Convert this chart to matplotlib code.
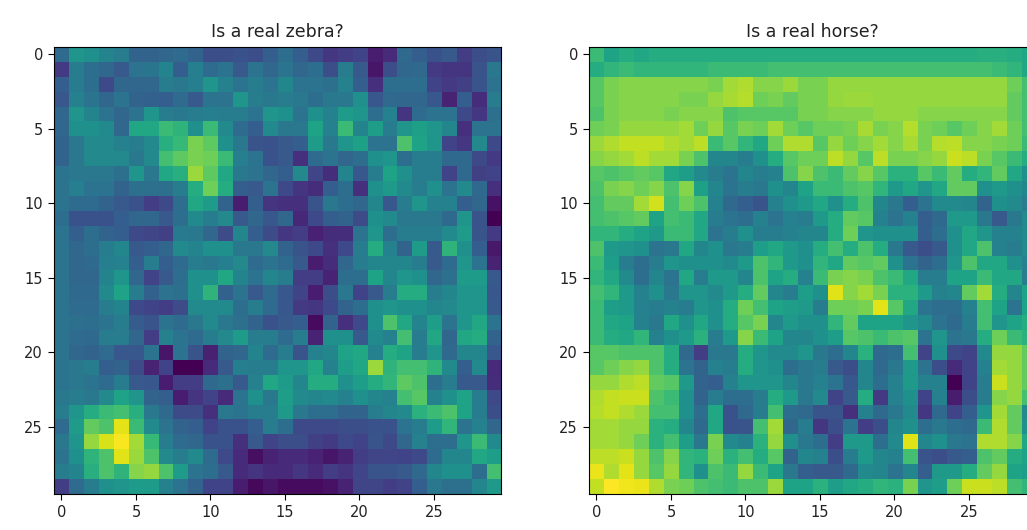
"""Two discriminator patch maps, zebra and horse."""
import matplotlib
matplotlib.use('Agg')
import matplotlib.pyplot as plt
import numpy as np

titles = ['Is a real zebra?', 'Is a real horse?']
ticks = [0, 5, 10, 15, 20, 25]

zebra = [
    [35,52,50,45,42,32,32,33,35,32,24,24,25,24,30, 36,30,22,16,18,20,8,12,34,30,25,28,18,24,26],
    [17,42,36,33,28,38,39,45,30,43,35,38,28,38,33, 38,33,36,24,42,28,6,24,33,34,17,15,15,26,40],
    [30,42,36,22,33,33,33,42,40,43,52,44,38,42,38, 46,38,38,37,44,30,14,36,36,36,20,17,19,26,38],
    [27,44,38,33,38,32,31,30,35,28,38,38,52,42,40, 42,40,36,40,40,50,27,34,33,33,27,10,30,13,42],
    [33,52,45,38,33,38,52,42,40,42,43,42,42,38,52, 50,38,50,44,55,52,36,44,15,35,38,38,22,16,37],
    [33,50,50,48,33,60,60,68,65,50,68,48,35,30,48, 40,40,58,44,68,45,56,42,52,57,52,46,14,38,38],
    [32,40,47,47,44,42,47,63,67,80,75,50,40,26,25, 28,30,55,40,52,57,38,38,72,58,52,20,16,47,22],
    [32,40,47,47,47,40,47,70,75,80,78,68,43,38,25, 28,14,35,38,33,36,50,52,36,42,42,34,34,22,17],
    [38,40,40,40,37,52,40,60,63,85,75,60,40,38,33, 30,47,21,13,45,27,42,58,50,42,42,20,34,19,20],
    [38,43,38,38,32,37,37,37,42,62,78,62,30,28,38, 22,15,13,30,36,14,50,54,48,42,50,38,48,34,14],
    [38,35,35,32,28,25,18,22,36,60,55,32,8,30,15, 14,14,26,40,36,33,46,27,42,52,44,44,30,33,5],
    [36,25,25,25,30,33,33,28,36,48,42,47,28,33,27, 33,11,22,30,32,23,50,48,40,40,40,34,52,26,0],
    [38,30,36,32,30,22,21,19,41,40,33,23,46,30,23, 16,18,9,13,13,38,52,36,42,42,42,48,55,26,17],
    [38,33,36,42,46,28,30,33,48,45,50,50,40,40,47, 32,26,22,14,22,42,62,44,32,55,28,65,50,30,7],
    [38,33,34,43,44,30,42,30,35,42,40,43,47,35,38, 35,28,8,13,33,42,46,46,46,42,28,35,52,38,10],
    [38,33,33,45,52,33,20,28,36,50,50,60,45,38,46, 42,18,18,10,36,36,58,46,52,50,33,37,55,55,28],
    [38,34,34,48,58,42,31,38,37,50,65,31,38,28,35, 27,20,8,24,40,20,28,42,62,62,42,46,52,52,27],
    [38,35,35,42,45,22,20,18,23,48,48,48,36,42,35, 27,17,16,22,32,36,50,52,50,50,46,47,52,52,28],
    [38,37,36,38,42,29,26,38,35,40,48,40,37,32,25, 28,30,3,32,14,22,50,72,60,45,56,38,52,60,38],
    [38,35,34,42,42,33,18,44,38,35,42,47,55,42,42, 35,42,10,50,50,28,48,44,70,42,60,33,60,62,32],
    [38,33,32,35,27,27,38,6,38,26,9,32,33,45,35, 42,26,44,46,58,60,44,62,58,42,52,34,46,46,27],
    [38,40,42,30,32,23,10,20,0,0,12,28,43,42,42, 52,52,60,44,56,60,85,65,70,70,65,48,30,48,12],
    [38,40,38,35,42,28,27,8,18,18,34,37,28,44,60, 55,46,62,62,50,56,62,66,75,72,36,42,28,28,13],
    [40,42,40,47,58,52,32,30,8,15,20,12,38,50,40, 56,48,46,48,44,50,46,44,70,74,44,50,58,42,22],
    [42,52,62,68,70,63,40,34,23,23,14,40,38,42,42, 54,40,36,36,32,32,42,46,48,64,68,72,58,42,24],
    [35,55,76,72,96,68,48,38,32,30,20,25,25,30,42, 36,22,22,22,24,24,25,25,38,42,55,66,38,44,33],
    [40,52,84,94,99,86,67,42,35,33,25,25,14,28,20, 24,24,19,17,22,20,26,22,33,44,36,36,52,68,48],
    [38,50,65,72,95,85,72,47,42,48,35,22,12,4,10, 12,12,10,6,10,18,21,21,20,22,35,46,46,60,56],
    [42,45,63,72,65,82,84,72,55,38,36,28,12,15,12, 12,16,12,18,15,21,26,26,28,34,46,50,50,36,70],
    [18,35,42,50,52,55,55,44,38,32,20,20,8,2,6, 3,3,3,5,10,21,21,18,20,30,40,37,37,46,54],
]

horse = [
    [68,58,62,60,62,62,62,62,62,62,62,62,62,62,62, 62,62,62,62,62,62,62,62,62,62,62,63,63,62,60],
    [62,66,68,66,66,66,66,66,68,68,68,68,70,70,70, 70,70,70,70,70,70,70,70,70,70,70,70,68,66,60],
    [74,80,82,82,82,82,82,82,80,86,88,82,82,85,80, 80,84,84,84,84,84,84,84,84,84,84,84,84,78,70],
    [74,80,82,82,82,82,80,80,84,87,89,78,80,76,80, 80,84,85,85,84,84,84,84,84,84,84,84,84,76,70],
    [72,80,82,82,82,80,82,82,82,72,74,74,74,74,80, 80,82,82,82,84,84,84,82,82,82,82,82,82,76,70],
    [78,80,84,84,84,84,86,78,84,74,80,78,86,78,74, 78,78,80,87,80,82,89,80,78,74,78,82,86,78,70],
    [85,88,91,91,91,88,86,90,68,74,66,60,78,88,88, 74,84,78,82,86,82,87,80,89,90,82,82,80,78,68],
    [82,84,86,90,86,86,80,72,46,46,42,50,62,74,78, 78,90,84,74,90,80,80,82,84,92,90,80,74,68,62],
    [74,72,74,76,74,60,56,48,42,38,46,42,44,72,82, 72,68,76,82,74,64,64,74,68,76,62,66,76,60,50],
    [72,80,82,78,82,72,82,57,46,38,42,40,50,46,58, 68,68,72,74,66,54,60,52,60,76,76,50,54,50,46],
    [70,76,76,86,93,70,78,72,44,34,30,26,44,50,54, 60,50,62,72,46,40,30,38,48,48,46,32,50,48,42],
    [70,72,74,76,58,70,68,60,42,38,36,44,38,44,42, 54,62,76,74,44,38,44,30,34,54,54,40,28,40,48],
    [66,66,62,58,54,68,68,60,38,42,50,42,42,44,46, 46,62,78,52,50,50,50,30,36,50,60,52,44,44,48],
    [72,54,52,50,38,40,60,46,50,40,42,56,60,54,50, 62,70,62,72,62,40,28,24,28,50,60,72,44,42,48],
    [68,56,42,36,42,52,50,50,50,48,54,72,66,54,50, 66,60,76,74,76,50,38,32,36,52,72,60,60,50,44],
    [66,60,48,36,46,38,60,42,54,54,46,72,58,62,44, 68,80,82,80,72,68,60,42,42,58,58,68,60,60,42],
    [70,66,54,44,50,40,52,52,48,54,62,76,46,42,56, 50,95,82,86,80,64,64,54,44,46,76,86,62,46,58],
    [68,56,54,44,42,44,42,52,50,62,78,70,58,56,54, 42,78,78,80,96,74,60,38,36,36,44,70,58,38,58],
    [68,60,58,44,40,60,50,60,50,62,74,80,46,54,50, 50,66,76,58,58,58,52,48,38,34,42,70,52,58,62],
    [68,62,60,66,44,50,54,64,42,54,82,68,58,46,46, 50,56,74,72,68,72,74,38,52,38,40,62,78,68,64],
    [74,74,72,72,72,62,34,18,40,40,62,52,48,48,52, 40,36,46,64,34,36,70,20,50,22,20,48,84,84,76],
    [74,78,82,84,72,62,38,32,44,42,62,52,50,36,40, 42,28,24,46,34,40,54,38,24,12,20,44,86,84,76],
    [84,84,88,90,76,74,54,32,30,44,52,52,52,46,40, 44,38,27,46,36,44,54,44,44,0,20,42,92,84,76],
    [88,91,92,92,72,68,50,32,42,36,36,42,62,54,40, 48,20,28,62,17,44,50,20,44,8,24,42,82,84,70],
    [89,91,88,85,70,70,50,36,60,25,34,42,70,36,34, 26,26,14,44,34,40,48,16,34,20,30,52,86,76,48],
    [86,86,84,84,64,62,46,34,60,25,26,70,86,33,42, 16,24,38,18,24,46,50,36,40,36,34,68,88,76,50],
    [86,86,84,78,64,70,56,40,80,48,44,64,84,50,40, 36,18,54,54,36,48,95,46,50,40,38,88,88,82,60],
    [90,90,92,84,72,82,66,64,78,64,70,62,74,32,46, 44,24,42,54,46,44,70,26,24,28,30,72,76,62,58],
    [97,88,96,84,74,84,66,50,72,68,84,68,58,40,30, 28,28,34,48,46,38,46,30,54,54,62,76,84,58,56],
    [91,100,98,97,88,80,78,72,70,68,72,72,85,58,58, 64,56,60,62,66,64,80,52,56,78,92,92,90,70,66],
]

W, H = 1027, 530
fig = plt.figure(figsize=(W / 100, H / 100), dpi=100)

# the right panel runs past the edge of the picture, as in the original crop
for left, data, title in zip([54, 589], [zebra, horse], titles):
    ax = fig.add_axes([left / W, (H - 494) / H, 447 / W, 447 / H])
    ax.imshow(np.array(data), cmap='viridis', vmin=0, vmax=100, interpolation='nearest')
    ax.set_title(title, fontsize=12.5, color='#222222', pad=7)
    ax.set_xticks(ticks)
    ax.set_yticks(ticks)
    ax.tick_params(labelsize=10.5, labelcolor='#222222', length=4.5)

plt.savefig('out.png', dpi=100)
plt.close()
